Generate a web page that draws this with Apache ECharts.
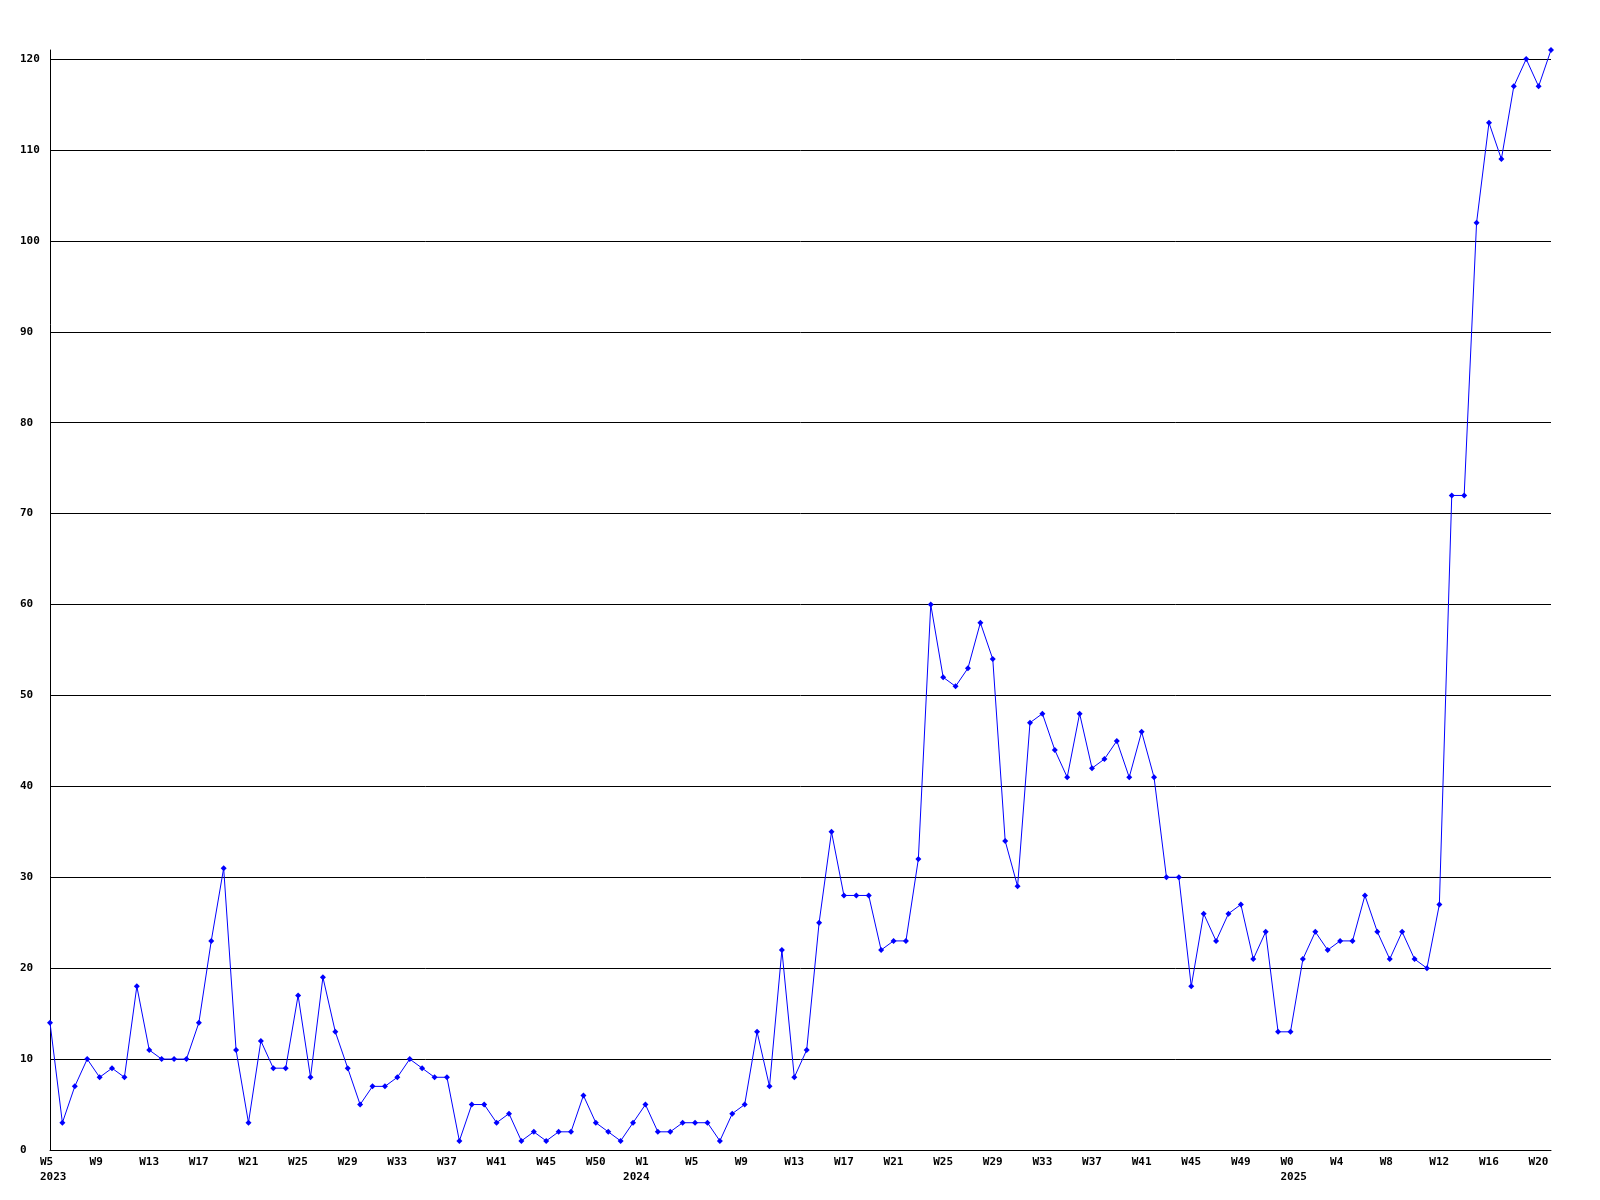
<!DOCTYPE html>
<html>
<head>
<meta charset="utf-8">
<script src="https://cdn.jsdelivr.net/npm/echarts@6/dist/echarts.min.js"></script>
<style>
html,body{margin:0;padding:0;background:#fff;}
#chart{width:1600px;height:1200px;}
</style>
</head>
<body>
<div id="chart"></div>
<script>
// Week numbers per year, as they appear in the data (one point per week)
const weeks2023 = [5,6,7,8,9,10,11,12,13,14,15,16,17,18,19,20,21,22,23,24,25,26,27,28,29,30,31,32,33,34,35,36,37,38,39,40,41,42,43,44,45,46,47,48,50,51,52];
const weeks2024 = [0,1,2,3,4,5,6,7,8,9,10,11,12,13,14,15,16,17,18,19,20,21,22,23,24,25,26,27,28,29,30,31,32,33,34,35,36,37,38,39,40,41,42,43,44,45,46,47,48,49,50,51,52];
const weeks2025 = [0,1,2,3,4,5,6,7,8,9,10,11,12,13,14,15,16,17,18,19,20,21];

const values = [
  14,3,7,10,8,9,8,18,11,10,
  10,10,14,23,31,11,3,12,9,9,
  17,8,19,13,9,5,7,7,8,10,
  9,8,8,1,5,5,3,4,1,2,
  1,2,2,6,3,2,1,3,5,2,
  2,3,3,3,1,4,5,13,7,22,
  8,11,25,35,28,28,28,22,23,23,
  32,60,52,51,53,58,54,34,29,47,
  48,44,41,48,42,43,45,41,46,41,
  30,30,18,26,23,26,27,21,24,13,
  13,21,24,22,23,23,28,24,21,24,
  21,20,27,72,72,102,113,109,117,120,117,121
];

const yTickValues = [0,10,20,30,40,50,60,70,80,90,100,110,120];

// Build category list
const categories = [];
const years = [];
[[2023, weeks2023],[2024, weeks2024],[2025, weeks2025]].forEach(([y, ws]) => {
  ws.forEach(w => { categories.push(y + '-W' + w); years.push(y); });
});

const labelEvery = 4;

const chart = echarts.init(document.getElementById('chart'), null, {renderer:'canvas'});
const font = {fontFamily:'DejaVu Sans Mono', fontWeight:'bold', fontSize:11, color:'#000'};

chart.setOption({
  animation:false,
  backgroundColor:'#fff',
  grid:{left:50, right:49, top:50, bottom:50, containLabel:false},
  xAxis:{
    type:'category',
    data:categories,
    boundaryGap:false,
    axisLine:{show:true, lineStyle:{color:'#000', width:1}},
    axisTick:{show:false},
    splitLine:{show:false},
    axisLabel:Object.assign({}, font, {
      interval:0,
      margin:5,
      lineHeight:15,
      align:'left',
      padding:[0,0,0,-10],
      formatter:function(v, i){
        const wk = (i % labelEvery === 0) ? v.split('-')[1] : '';
        const firstOfYear = (i === 0 || years[i] !== years[i-1]);
        const yr = firstOfYear ? String(years[i]) : '';
        if (!wk && !yr) return '';
        if (yr) return (wk || ' ') + '\n' + yr;
        return wk;
      }
    })
  },
  yAxis:{
    type:'value',
    min:0,
    max:121,
    interval:10,
    axisLine:{show:true, lineStyle:{color:'#000', width:1}},
    axisTick:{show:false},
    splitLine:{show:true, lineStyle:{color:yTickValues.map(()=>'#000').concat(['rgba(0,0,0,0)']), width:1}},
    axisLabel:Object.assign({}, font, {
      align:'left',
      margin:30,
      formatter:function(v){ return yTickValues.indexOf(v) >= 0 ? String(v) : ''; }
    })
  },
  series:[{
    type:'line',
    data:values,
    symbol:'diamond',
    symbolSize:6,
    showAllSymbol:true,
    lineStyle:{color:'#0000ff', width:1},
    itemStyle:{color:'#0000ff'},
    emphasis:{disabled:true}
  }]
});
</script>
</body>
</html>
